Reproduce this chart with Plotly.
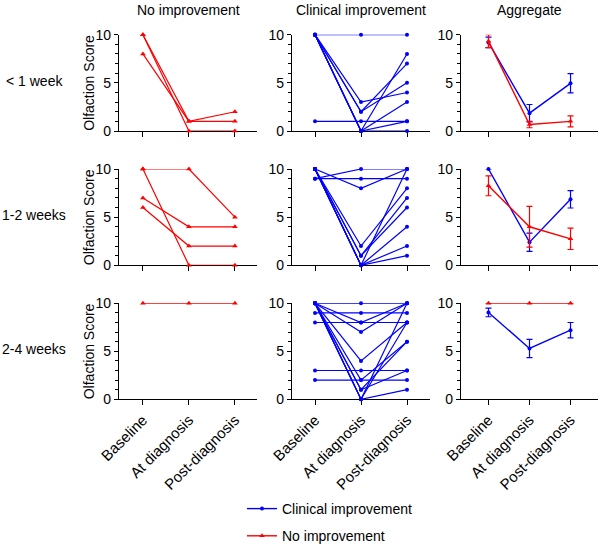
import plotly.graph_objects as go

W, H = 600, 544
categories = ["Baseline", "At diagnosis", "Post-diagnosis"]
row_labels = ["< 1 week", "1-2 weeks", "2-4 weeks"]
col_titles = ["No improvement", "Clinical improvement", "Aggregate"]
y_title = "Olfaction Score"
legend_names = ["Clinical improvement", "No improvement"]

# Individual subjects: [Baseline, At diagnosis, Post-diagnosis]
no_imp_lt1 = [[10, 1, 2], [8, 1, 1], [10, 0, 0]]
clin_lt1 = [[10, 10, 10], [1, 1, 1], [10, 3, 4], [10, 2, 7], [10, 2, 5],
            [10, 0, 8], [10, 0, 3], [10, 0, 1], [10, 0, 0]]
no_imp_1to2 = [[10, 10, 5], [10, 0, 0], [7, 4, 4], [6, 2, 2]]
clin_1to2 = [[9, 10, 10], [10, 8, 10], [9, 9, 9], [10, 2, 8], [10, 1, 7],
             [10, 1, 6], [10, 0, 10], [10, 0, 4], [10, 0, 2], [10, 0, 1]]
no_imp_2to4 = [[10, 10, 10]]
clin_2to4 = [[10, 10, 10], [9, 9, 9], [8, 8, 8], [3, 3, 3], [2, 2, 2],
             [10, 8, 10], [10, 7, 10], [10, 4, 8], [10, 2, 6], [10, 1, 6],
             [10, 1, 3], [10, 0, 10], [10, 0, 8], [10, 0, 1]]

# Aggregates (mean, SEM)
agg_clin_lt1 = [9.2, 1.85, 4.95]
agg_clin_lt1_err = [0.55, 0.9, 1.0]
agg_no_lt1 = [9.33, 0.67, 1.0]
agg_no_lt1_err = [0.67, 0.33, 0.58]
agg_clin_1to2 = [10.0, 2.4, 6.85]
agg_clin_1to2_err = [0.0, 0.95, 0.9]
agg_no_1to2 = [8.25, 4.0, 2.75]
agg_no_1to2_err = [1.03, 2.12, 1.11]
agg_clin_2to4 = [9.05, 5.3, 7.2]
agg_clin_2to4_err = [0.45, 0.95, 0.8]
agg_no_2to4 = [10.0, 10.0, 10.0]
agg_no_2to4_err = [0.0, 0.0, 0.0]

BLUE = "#0000FF"
RED = "#FF0000"
FONT = "Arial, Liberation Sans, Helvetica, sans-serif"

# pixel geometry
col_px = [(119, 257), (292, 430), (461, 598)]
col_range = [[-0.52, 2.48], [-0.5, 2.5], [-0.67, 2.67]]
row_px = [(34.7, 131), (169, 265.3), (303.3, 399.3)]

def px(x):
    return x / W

def py(y):
    return 1 - y / H

fig = go.Figure()

indiv = [[no_imp_lt1, clin_lt1], [no_imp_1to2, clin_1to2], [no_imp_2to4, clin_2to4]]
aggs = [
    (agg_clin_lt1, agg_clin_lt1_err, agg_no_lt1, agg_no_lt1_err),
    (agg_clin_1to2, agg_clin_1to2_err, agg_no_1to2, agg_no_1to2_err),
    (agg_clin_2to4, agg_clin_2to4_err, agg_no_2to4, agg_no_2to4_err),
]

layout_axes = {}
for r in range(3):
    for c in range(3):
        k = r * 3 + c + 1
        sx = "" if k == 1 else str(k)
        layout_axes["xaxis" + sx] = dict(
            domain=[px(col_px[c][0]), px(col_px[c][1])],
            anchor="y" + sx, range=col_range[c], type="category",
            categoryorder="array", categoryarray=categories,
            showline=True, linecolor="black", linewidth=1.3,
            ticks="outside", ticklen=5, tickwidth=1.2, tickcolor="black",
            showgrid=False, zeroline=False, tickangle=-45,
            showticklabels=(r == 2), layer="below traces",
            tickfont=dict(family=FONT, size=15, color="black"),
        )
        layout_axes["yaxis" + sx] = dict(
            domain=[py(row_px[r][1]), py(row_px[r][0])],
            anchor="x" + sx, range=[0, 10], tickvals=[0, 5, 10],
            showline=True, linecolor="black", linewidth=1.3,
            ticks="outside", ticklen=4, tickwidth=1.2, tickcolor="black",
            minor=dict(dtick=1, ticks="outside", ticklen=2.5, tickwidth=1, tickcolor="black"),
            showgrid=False, zeroline=False, layer="below traces",
            tickfont=dict(family=FONT, size=14, color="black"),
        )
        xa, ya = "x" + sx, "y" + sx
        if c == 0:
            for subj in indiv[r][0]:
                fig.add_trace(go.Scatter(x=categories, y=subj, xaxis=xa, yaxis=ya,
                                         mode="lines+markers", cliponaxis=False, showlegend=False,
                                         line=dict(color=RED, width=1.2),
                                         marker=dict(symbol="triangle-up", size=5, color=RED)))
        elif c == 1:
            for subj in indiv[r][1]:
                fig.add_trace(go.Scatter(x=categories, y=subj, xaxis=xa, yaxis=ya,
                                         mode="lines+markers", cliponaxis=False, showlegend=False,
                                         line=dict(color=BLUE, width=1.2),
                                         marker=dict(symbol="circle", size=4, color=BLUE)))
        else:
            cm, ce, nm, ne = aggs[r]
            fig.add_trace(go.Scatter(x=categories, y=cm, xaxis=xa, yaxis=ya,
                                     mode="lines+markers", cliponaxis=False,
                                     name=legend_names[0], showlegend=(r == 0),
                                     legendgroup="clin", legendrank=1,
                                     line=dict(color=BLUE, width=1.4),
                                     marker=dict(symbol="circle", size=4, color=BLUE),
                                     error_y=dict(type="data", array=ce, visible=True,
                                                  color=BLUE, thickness=1.2, width=3)))
            fig.add_trace(go.Scatter(x=categories, y=nm, xaxis=xa, yaxis=ya,
                                     mode="lines+markers", cliponaxis=False,
                                     name=legend_names[1], showlegend=(r == 0),
                                     legendgroup="no", legendrank=2,
                                     line=dict(color=RED, width=1.4),
                                     marker=dict(symbol="triangle-up", size=5, color=RED),
                                     error_y=dict(type="data", array=ne, visible=True,
                                                  color=RED, thickness=1.2, width=3)))

annotations = []
for c in range(3):
    annotations.append(dict(text=col_titles[c], x=px((col_px[c][0] + col_px[c][1]) / 2),
                            y=py(10), xref="paper", yref="paper", showarrow=False,
                            xanchor="center", yanchor="middle",
                            font=dict(family=FONT, size=14, color="black")))
for r in range(3):
    yc = (row_px[r][0] + row_px[r][1]) / 2
    annotations.append(dict(text=row_labels[r], x=px(34), y=py(yc - 2), xref="paper", yref="paper",
                            showarrow=False, xanchor="center", yanchor="middle",
                            font=dict(family=FONT, size=14, color="black")))
    annotations.append(dict(text=y_title, x=px(89), y=py(yc), xref="paper", yref="paper",
                            showarrow=False, xanchor="center", yanchor="middle", textangle=-90,
                            font=dict(family=FONT, size=14, color="black")))

fig.update_layout(
    width=W, height=H, margin=dict(l=0, r=0, t=0, b=0, autoexpand=False),
    paper_bgcolor="white", plot_bgcolor="white",
    font=dict(family=FONT, size=14, color="black"),
    annotations=annotations,
    legend=dict(x=px(242), y=py(493), xanchor="left", yanchor="top",
                bgcolor="rgba(0,0,0,0)", tracegroupgap=6,
                font=dict(family=FONT, size=14, color="black")),
    **layout_axes,
)

fig.write_html("out.html", config={"displayModeBar": False},
               post_script="document.body.style.margin='0';document.body.style.overflow='hidden';")
